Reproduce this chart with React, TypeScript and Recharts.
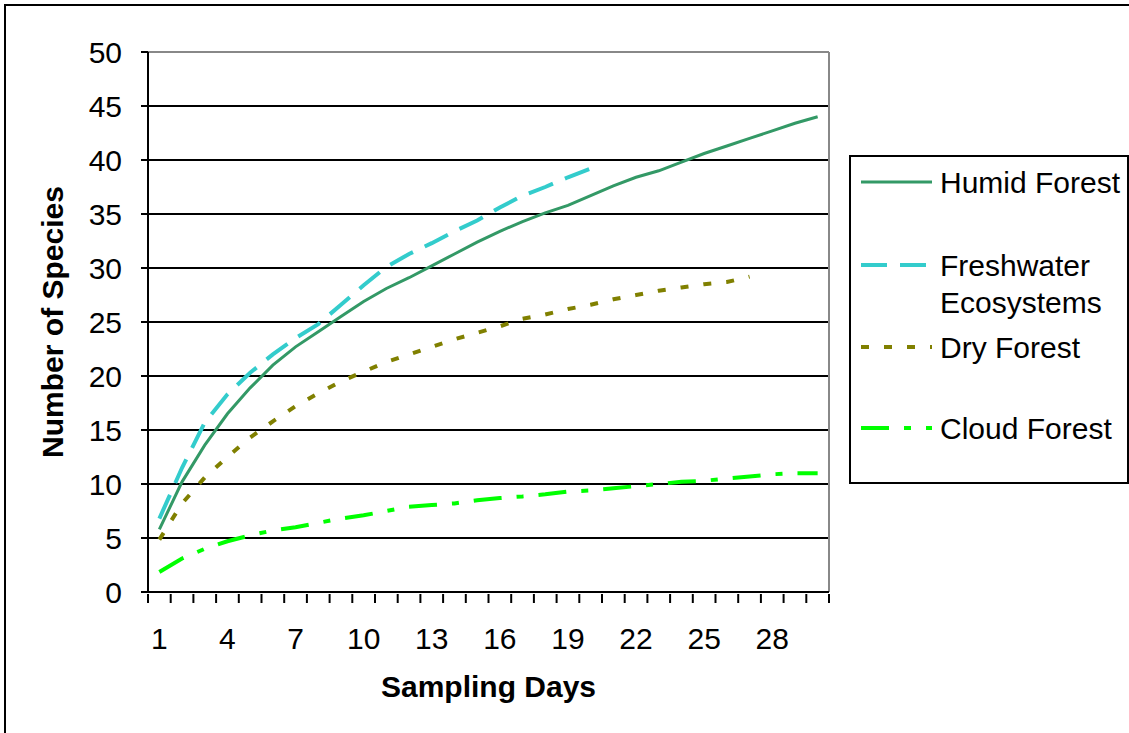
import React from "react";
import { LineChart, Line, XAxis, YAxis, CartesianGrid, ReferenceLine, Legend } from "recharts";

const days = [1, 2, 3, 4, 5, 6, 7, 8, 9, 10, 11, 12, 13, 14, 15, 16, 17, 18, 19, 20, 21, 22, 23, 24, 25, 26, 27, 28, 29, 30];

const humidForest = [5.8, 10.2, 13.6, 16.5, 18.9, 21.0, 22.7, 24.1, 25.5, 26.9, 28.1, 29.1, 30.2, 31.3, 32.4, 33.4, 34.3, 35.1, 35.8, 36.7, 37.6, 38.4, 39.0, 39.8, 40.6, 41.3, 42.0, 42.7, 43.4, 44.0];
const freshwater = [6.8, 11.5, 15.7, 18.3, 20.3, 22.0, 23.5, 24.8, 26.6, 28.4, 30.1, 31.3, 32.3, 33.4, 34.4, 35.6, 36.7, 37.5, 38.4, 39.2, null, null, null, null, null, null, null, null, null, null];
const dryForest = [4.85, 8.2, 10.6, 12.5, 14.3, 15.8, 17.2, 18.4, 19.5, 20.4, 21.3, 22.0, 22.7, 23.4, 24.0, 24.6, 25.3, 25.7, 26.2, 26.6, 27.1, 27.5, 27.9, 28.2, 28.5, 28.7, 29.2, null, null, null];
const cloudForest = [1.85, 3.1, 4.0, 4.7, 5.25, 5.7, 6.0, 6.4, 6.8, 7.1, 7.5, 7.9, 8.05, 8.2, 8.5, 8.7, 8.85, 9.05, 9.3, 9.4, 9.6, 9.8, 10.0, 10.2, 10.3, 10.5, 10.7, 10.9, 11.0, 11.0];

const yTicks = [0, 5, 10, 15, 20, 25, 30, 35, 40, 45, 50];
const dayLabels = [1, 4, 7, 10, 13, 16, 19, 22, 25, 28];
// tick marks sit between days, like the Excel category axis
const dayBounds = [...days.map((d) => d - 0.5), days[days.length - 1] + 0.5];

const data = days.map((day, i) => ({
  day,
  humid: humidForest[i],
  fresh: freshwater[i],
  dry: dryForest[i],
  cloud: cloudForest[i],
}));

const series = [
  { key: "humid", name: ["Humid Forest"], color: "#339966", dash: undefined, width: 3 },
  { key: "fresh", name: ["Freshwater", "Ecosystems"], color: "#33CCCC", dash: "26 13", width: 4 },
  { key: "dry", name: ["Dry Forest"], color: "#808000", dash: "8 15", width: 4 },
  { key: "cloud", name: ["Cloud Forest"], color: "#00FF00", dash: "28 15 7 15", width: 4 },
];

const FONT = "'Liberation Sans', Arial, sans-serif";
const FS = 30;
const legendRows = [27, 110, 192, 273];

function DayTick({ x, y, payload }: any) {
  const v = payload.value;
  if (Number.isInteger(v)) {
    return (
      <text x={x} y={y + 55} textAnchor="middle" fontSize={FS} fill="#000" fontFamily={FONT}>
        {v}
      </text>
    );
  }
  return <line x1={x} x2={x} y1={y} y2={y + 9} stroke="#000" strokeWidth={2} />;
}

function LegendBox() {
  return (
    <svg width={280} height={329} style={{ display: "block" }}>
      <rect x={1} y={1} width={278} height={327} fill="#fff" stroke="#000" strokeWidth={2} />
      {series.map((s, i) => (
        <g key={s.key}>
          <line
            x1={12}
            x2={83}
            y1={legendRows[i]}
            y2={legendRows[i]}
            stroke={s.color}
            strokeWidth={s.width}
            strokeDasharray={s.dash}
          />
          <text x={91} y={legendRows[i]} fontSize={FS} fill="#000" fontFamily={FONT} dominantBaseline="central">
            {s.name.map((t, j) => (
              <tspan key={t} x={91} dy={j === 0 ? 0 : 37}>
                {t}
              </tspan>
            ))}
          </text>
        </g>
      ))}
    </svg>
  );
}

export default function App() {
  const tickAxisStyle = { stroke: "#000", strokeWidth: 2 };
  return (
    <div style={{ position: "absolute", left: 0, top: 0, width: 1129, height: 733, overflow: "hidden", background: "#fff", fontFamily: FONT }}>
      <div style={{ position: "absolute", left: 4, top: 4, width: 1140, height: 740, border: "2px solid #000" }} />
      <LineChart width={1129} height={733} data={data} margin={{ top: 52, right: 300, bottom: 0, left: 5 }} style={{ position: "absolute", left: 0, top: 0 }}>
        <CartesianGrid horizontal vertical={false} stroke="#000" strokeWidth={2} />
        <XAxis
          type="number"
          dataKey="day"
          domain={[0.5, 30.5]}
          ticks={[...dayBounds, ...dayLabels]}
          interval={0}
          height={141}
          tickSize={0}
          tickLine={false}
          axisLine={tickAxisStyle}
          tick={<DayTick />}
          label={{ value: "Sampling Days", position: "insideBottom", offset: 36, style: { fontSize: FS, fontWeight: "bold", fill: "#000", fontFamily: FONT } }}
        />
        <YAxis
          type="number"
          domain={[0, 50]}
          ticks={yTicks}
          interval={0}
          width={143}
          tickSize={7}
          tickMargin={19}
          tickLine={tickAxisStyle}
          axisLine={tickAxisStyle}
          tick={{ fontSize: FS, fill: "#000", fontFamily: FONT }}
          label={{ value: "Number of Species", angle: -90, position: "insideLeft", offset: 47, style: { fontSize: FS, fontWeight: "bold", fill: "#000", textAnchor: "middle", fontFamily: FONT } }}
        />
        <ReferenceLine y={50} stroke="#888" strokeWidth={2} />
        <ReferenceLine x={30.5} stroke="#888" strokeWidth={2} />
        {series.map((s) => (
          <Line
            key={s.key}
            type="linear"
            dataKey={s.key}
            name={s.name.join(" ")}
            stroke={s.color}
            strokeWidth={s.width}
            strokeDasharray={s.dash}
            dot={false}
            activeDot={false}
            isAnimationActive={false}
          />
        ))}
        <Legend
          layout="vertical"
          align="center"
          verticalAlign="middle"
          content={<LegendBox />}
          wrapperStyle={{ position: "absolute", left: 849, top: 155, width: 280, height: 329 }}
        />
      </LineChart>
    </div>
  );
}
